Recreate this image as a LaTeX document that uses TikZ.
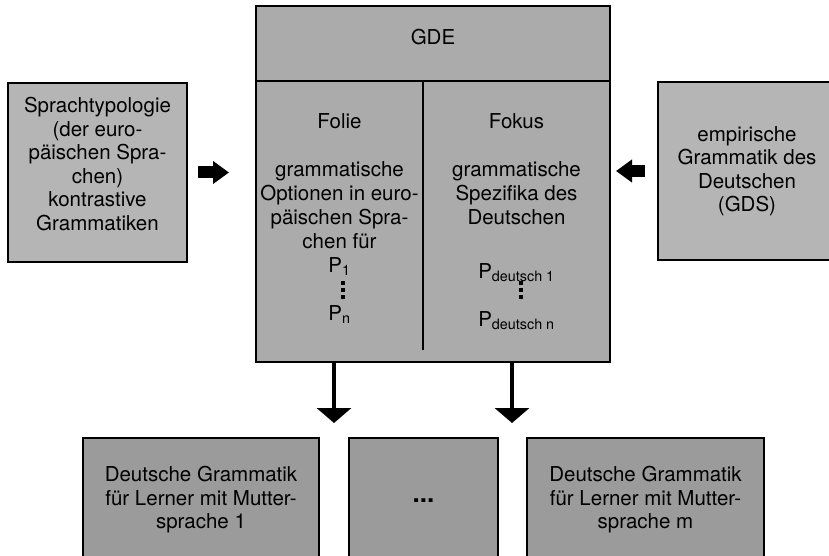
\documentclass[tikz,border=0pt]{standalone}
\usepackage{fontspec}
\setmainfont{TeX Gyre Heros}
\usetikzlibrary{arrows.meta}
\definecolor{KastenHell}{HTML}{B5B5B5}
\definecolor{KastenMittel}{HTML}{ABABAB}
\definecolor{KastenDunkel}{HTML}{9B9B9B}

\tikzset{
  kasten/.style={draw=black, line width=1.6pt, outer sep=0pt, inner sep=0pt,
    align=center, font=\fontsize{20.5}{23.5}\selectfont},
  schrift/.style={inner sep=0pt, align=center, font=\fontsize{20.5}{24}\selectfont},
  punkt/.style={fill=black, minimum size=3.2pt, inner sep=0pt},
  pfeildick/.style={line width=12pt, -{Triangle[length=16pt,width=22pt]}},
  pfeilrunter/.style={line width=4pt, -{Triangle[length=15pt,width=34pt]}},
}

\begin{document}
\begin{tikzpicture}[x=1pt,y=-1pt]
  \useasboundingbox (0,0) rectangle (829,556);
  \clip (0,0) rectangle (829,556);
  \fill[white] (0,0) rectangle (829,556);

  % Mitte: GDE mit Folie und Fokus
  \node[kasten, fill=KastenMittel, minimum width=354pt, minimum height=356pt] (gde) at (433,184) {};
  \coordinate (kopf) at (433,81);
  \coordinate (teil) at (423,350);
  \draw[line width=1.6pt] (kopf -| gde.west) -- (kopf -| gde.east);
  \draw[line width=1.6pt] (teil |- kopf) -- (teil);
  \node[schrift] (titel) at (433,37) {GDE};
  \node[schrift, anchor=north] (folie) at (339.5,113)
    {Folie\\[24pt]grammatische\\Optionen in euro-\\päischen Spra-\\chen für\\P\textsubscript{1}\\[24pt]P\textsubscript{n}};
  \node[schrift, anchor=north] (fokus) at (516.5,113)
    {Fokus\\[24pt]grammatische\\Spezifika des\\Deutschen\\[30pt]P\textsubscript{deutsch 1}\\[24pt]P\textsubscript{deutsch n}};
  % senkrechte Auslassungspunkte
  \foreach \y in {283,290,297} {
    \node[punkt] at (343,\y) {};
    \node[punkt] at (521,\y) {};
  }

  % Quellen links und rechts
  \node[kasten, fill=KastenHell, minimum width=179pt, minimum height=179pt] (typo) at (97.5,172.5)
    {Sprachtypologie\\(der euro-\\päischen Spra-\\chen)\\kontrastive\\Grammatiken\\[-6pt]};
  \node[kasten, fill=KastenHell, minimum width=178pt, minimum height=178pt] (empirie) at (747,171)
    {empirische\\Grammatik des\\Deutschen\\(GDS)};

  % Lernergrammatiken unten
  \node[kasten, fill=KastenDunkel, minimum width=236pt, minimum height=124pt] (lerner1) at (201,500)
    {Deutsche Grammatik\\für Lerner mit Mutter-\\sprache 1};
  \node[kasten, fill=KastenDunkel, minimum width=149pt, minimum height=124pt] (lernerx) at (423.5,500)
    {\raisebox{-5pt}{\fontsize{26}{26}\selectfont\textbf{...}}};
  \node[kasten, fill=KastenDunkel, minimum width=237pt, minimum height=124pt] (lernerm) at (645.5,500)
    {Deutsche Grammatik\\für Lerner mit Mutter-\\sprache m};

  % Pfeile
  \draw[pfeildick, shorten <=11pt, shorten >=27pt] (typo.east) -- (typo.east -| gde.west);
  \draw[pfeildick, shorten <=13pt, shorten >=6pt] (empirie.west) -- (empirie.west -| gde.east);
  \coordinate (p1) at (334,423);
  \coordinate (p2) at (512,423);
  \draw[pfeilrunter] (p1 |- gde.south) -- (p1);
  \draw[pfeilrunter] (p2 |- gde.south) -- (p2);
\end{tikzpicture}
\end{document}
